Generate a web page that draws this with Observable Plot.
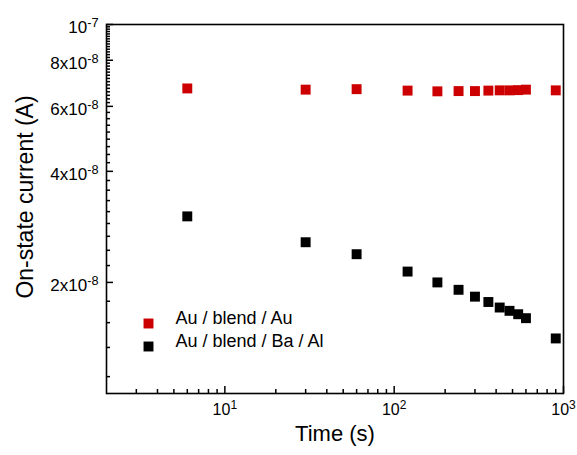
<!DOCTYPE html>
<html>
<head>
<meta charset="utf-8">
<script src="https://cdn.jsdelivr.net/npm/d3@7"></script>
<script src="https://cdn.jsdelivr.net/npm/@observablehq/plot@0.6"></script>
<style>
  html, body { margin: 0; padding: 0; background: #fff; }
  #chart { width: 577px; height: 455px; }
</style>
</head>
<body>
<div id="chart"></div>
<script>
// ---- data ----
const times = [6, 30, 60, 120, 180, 240, 300, 360, 420, 480, 540, 600, 900];
const auAu = [6.71e-8, 6.66e-8, 6.68e-8, 6.62e-8, 6.59e-8, 6.60e-8, 6.60e-8, 6.62e-8, 6.63e-8, 6.63e-8, 6.64e-8, 6.66e-8, 6.63e-8];
const auBaAl = [3.02e-8, 2.57e-8, 2.385e-8, 2.14e-8, 2.00e-8, 1.91e-8, 1.83e-8, 1.77e-8, 1.71e-8, 1.675e-8, 1.64e-8, 1.60e-8, 1.41e-8];
const seriesNames = ["Au / blend / Au", "Au / blend / Ba / Al"];
const seriesColors = ["#cc0000", "#000000"];

// ---- axis ticks ----
const xMajor = [10, 100, 1000];
const xMinor = [3, 4, 5, 6, 7, 8, 9, 20, 30, 40, 50, 60, 70, 80, 90, 200, 300, 400, 500, 600, 700, 800, 900];
const yMajor = [2e-8, 4e-8, 6e-8, 8e-8, 1e-7];
const yMinorE8 = [1.111, 1.333, 1.556, 1.778,
  2.222, 2.444, 2.667, 2.889, 3.111, 3.333, 3.556, 3.778,
  4.222, 4.444, 4.667, 4.889, 5.111, 5.333, 5.556, 5.778,
  6.143, 6.286, 6.429, 6.571, 6.714, 6.857, 7.0, 7.143, 7.286, 7.429, 7.571, 7.714, 7.857,
  8.143, 8.286, 8.429, 8.571, 8.714, 8.857, 9.0, 9.143, 9.286, 9.429, 9.571, 9.714, 9.857];
const yMinor = yMinorE8.map(v => v * 1e-8);
const xLabel = "Time (s)";
const yLabel = "On-state current (A)";

// ---- table ----
const rows = [];
times.forEach((t, i) => rows.push({t, i: auAu[i], s: seriesNames[0]}));
times.forEach((t, i) => rows.push({t, i: auBaAl[i], s: seriesNames[1]}));

function sciFormat(d) {
  const e = Math.floor(Math.log10(d) + 1e-9);
  const m = Math.round(d / Math.pow(10, e));
  return m === 1 ? `10^${e}` : `${m}x10^${e}`;
}
const noLabel = () => "";

const legendMarks = seriesNames.flatMap((name, k) => [
  Plot.dot([name], {frameAnchor: "bottom-left", dx: 42, dy: -70 + 23 * k, symbol: "square", r: 5.6, fill: seriesColors[k], stroke: "none"}),
  Plot.text([name], {frameAnchor: "bottom-left", dx: 69, dy: -70 + 23 * k, text: d => d, textAnchor: "start", fontSize: 18, fill: "#000"})
]);

const plot = Plot.plot({
  width: 577, height: 455,
  marginLeft: 106, marginTop: 24, marginRight: 14, marginBottom: 62,
  style: {fontFamily: "'Liberation Sans', Arial, sans-serif", fontSize: "15px", background: "#fff", color: "#000"},
  x: {type: "log", domain: [2, 1000], label: null},
  y: {type: "log", domain: [1e-8, 1e-7], label: null},
  color: {domain: seriesNames, range: seriesColors},
  marks: [
    // inward ticks: axis ticks shifted into the frame
    Plot.axisX({ticks: xMajor, tickSize: 7, dy: -7, tickFormat: noLabel, label: null, strokeWidth: 1.5}),
    Plot.axisX({ticks: xMinor, tickSize: 4, dy: -4, tickFormat: noLabel, label: null, strokeWidth: 1.5}),
    Plot.axisY({ticks: yMajor, tickSize: 7, dx: 7, tickFormat: noLabel, label: null, strokeWidth: 1.5}),
    Plot.axisY({ticks: yMinor, tickSize: 4, dx: 4, tickFormat: noLabel, label: null, strokeWidth: 1.5}),
    // tick labels
    Plot.text(xMajor, {x: d => d, frameAnchor: "bottom", dy: 21, text: sciFormat, fontSize: 16, textAnchor: "middle"}),
    Plot.text(yMajor, {y: d => d, frameAnchor: "left", dx: -8, dy: 3, text: sciFormat, fontSize: 17, textAnchor: "end"}),
    // axis titles
    Plot.text([xLabel], {frameAnchor: "bottom", text: d => d, dy: 47.5, fontSize: 22, textAnchor: "middle"}),
    Plot.text([yLabel], {frameAnchor: "left", text: d => d, rotate: -90, dx: -81, dy: -12, fontSize: 23, textAnchor: "middle"}),
    // data
    Plot.dot(rows, {x: "t", y: "i", fill: "s", symbol: "square", r: 5.6, stroke: "none"}),
    ...legendMarks,
    Plot.frame({stroke: "#000", strokeWidth: 1.6})
  ]
});

// superscripts
const NS = "http://www.w3.org/2000/svg";
plot.querySelectorAll("text").forEach(t => {
  const s = t.textContent;
  if (!s.includes("^")) return;
  const [a, b] = s.split("^");
  t.textContent = a;
  const ts = document.createElementNS(NS, "tspan");
  ts.setAttribute("dy", "-0.45em");
  ts.setAttribute("font-size", "0.75em");
  ts.textContent = b;
  t.appendChild(ts);
});

document.getElementById("chart").appendChild(plot);
</script>
</body>
</html>
